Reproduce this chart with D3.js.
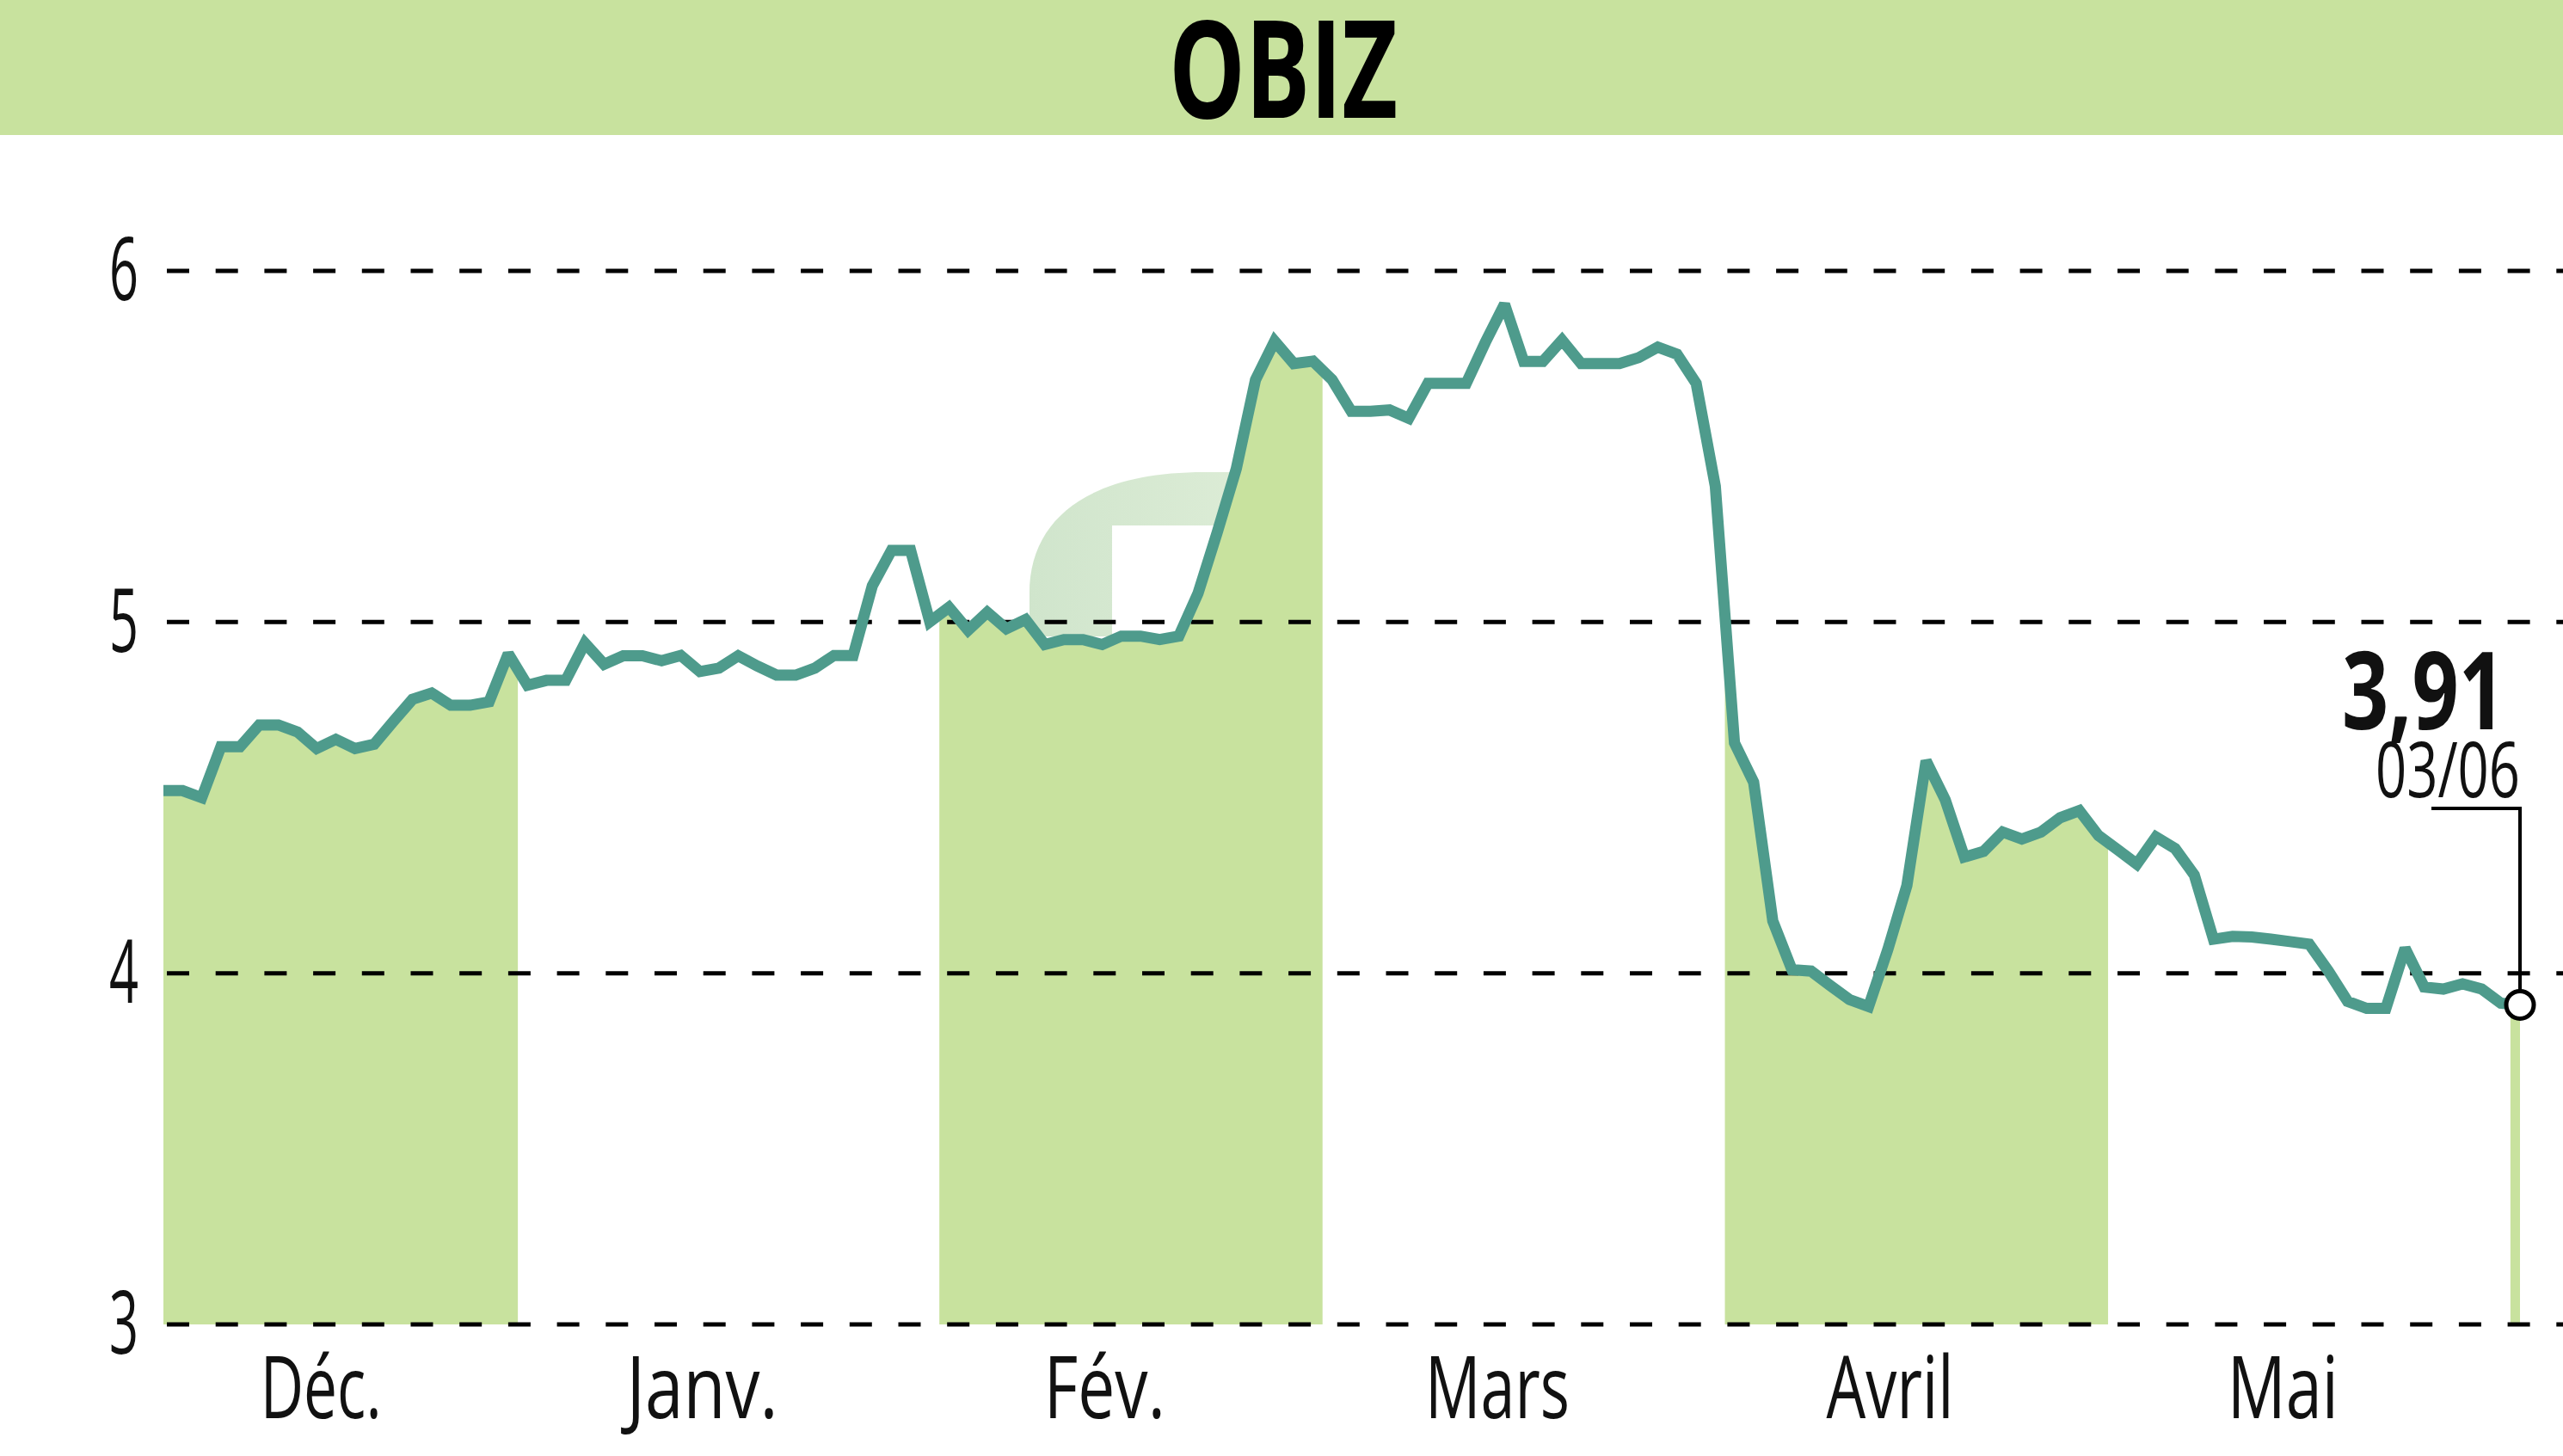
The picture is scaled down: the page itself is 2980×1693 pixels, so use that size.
<!DOCTYPE html>
<html><head><meta charset="utf-8">
<script src="https://cdn.jsdelivr.net/npm/d3@7"></script>
<style>html,body{margin:0;padding:0;background:#fff;} svg{display:block}</style>
</head><body>
<svg id="c" width="2980" height="1693"></svg>
<script>
const title = "OBIZ";
const monthNames = ["Déc.", "Janv.", "Fév.", "Mars", "Avril", "Mai", "Juin"];
const monthCounts = [19, 22, 20, 21, 20, 21, 1];
const tickLabels = ["Déc.", "Janv.", "Fév.", "Mars", "Avril", "Mai"];
const tickIndex = [8.2, 28.1, 49.1, 69.6, 90.1, 110.6];
const tickWidths = [141, 176, 141, 168, 148, 129];
const yTicks = [3, 4, 5, 6];
const prices = [
  4.52, 4.52, 4.50, 4.645, 4.645, 4.707, 4.707, 4.687, 4.64, 4.666,
  4.64, 4.652, 4.717, 4.78, 4.798, 4.763, 4.763, 4.773, 4.91,
  4.82, 4.834, 4.834, 4.94, 4.88, 4.904, 4.904, 4.89, 4.905, 4.859,
  4.869, 4.904, 4.875, 4.849, 4.849, 4.869, 4.905, 4.905, 5.103, 5.204,
  5.204, 5.001,
  5.042, 4.977, 5.028, 4.981, 5.007, 4.936, 4.95, 4.95, 4.936, 4.96,
  4.96, 4.95, 4.96, 5.082, 5.255, 5.437, 5.69, 5.80, 5.736, 5.743,
  5.69, 5.60, 5.60, 5.604, 5.58, 5.68, 5.68, 5.68, 5.797, 5.905,
  5.742, 5.742, 5.803, 5.736, 5.736, 5.736, 5.753, 5.783, 5.763, 5.68,
  5.387,
  4.656, 4.544, 4.149, 4.01, 4.006, 3.965, 3.925, 3.905, 4.067, 4.25,
  4.605, 4.494, 4.331, 4.347, 4.402, 4.382, 4.402, 4.443, 4.463, 4.392,
  4.352, 4.311, 4.388, 4.355, 4.28, 4.097, 4.105, 4.103, 4.097, 4.09,
  4.083, 4.006, 3.92, 3.90, 3.90, 4.071, 3.961, 3.955, 3.97, 3.955,
  3.915,
  3.91
];
const lastValueLabel = "3,91";
const lastDateLabel = "03/06";

const W = 2980, H = 1693;
const svg = d3.select("#c");
const N = prices.length;
const x = d3.scaleLinear().domain([0, N - 1]).range([190, 2930]);
const y = d3.scaleLinear().domain([3, 6]).range([1540, 315]);

const lineColor = "#4e9b8c";
const fillColor = "#c8e29e";
const FONT = "Open Sans, sans-serif";

// squeeze a text horizontally to a target width, keeping its anchor point
function squeeze(sel, widthFn) {
  sel.each(function (d, i) {
    const t = d3.select(this);
    const w = this.getComputedTextLength();
    const target = typeof widthFn === "function" ? widthFn(d, i) : widthFn;
    const ax = +t.attr("x") || 0;
    const s = target / w;
    t.attr("transform", `translate(${ax * (1 - s)},0) scale(${s},1)`);
  });
}

// header
svg.append("rect").attr("x", 0).attr("y", 0).attr("width", W).attr("height", 157).attr("fill", fillColor);
svg.append("text").text(title)
  .attr("x", 1492).attr("y", 137).attr("text-anchor", "middle")
  .attr("font-family", FONT).attr("font-weight", 700)
  .attr("font-size", 158).attr("fill", "#000")
  .call(squeeze, 266);

// watermark
const defs = svg.append("defs");
const grad = defs.append("linearGradient").attr("id", "wm").attr("x1", "0").attr("x2", "1").attr("y1", "0").attr("y2", "0");
grad.append("stop").attr("offset", "0").attr("stop-color", "#d0e5cc");
grad.append("stop").attr("offset", "1").attr("stop-color", "#dcecd6");
svg.append("path")
  .attr("d", "M1197,740 L1197,690 C1197,600 1270,549 1400,549 L1445,549 L1445,611 L1293,611 L1293,740 Z")
  .attr("fill", "url(#wm)");

// month bands
let start = 0;
const bands = monthCounts.map((c, i) => {
  const b = { name: monthNames[i], first: start, last: start + c - 1, shaded: i % 2 === 0 };
  start += c;
  return b;
});
const clip = defs.append("clipPath").attr("id", "bands");
bands.filter(b => b.shaded).forEach(b => {
  const x0 = Math.max(x(b.first - 0.5), x(0) - 6);
  const x1 = Math.min(x(b.last + 0.5), x(N - 1) + 8);
  clip.append("rect").attr("x", x0).attr("y", 0).attr("width", x1 - x0).attr("height", H);
});

const area = d3.area().x((d, i) => x(i)).y0(y(3)).y1(d => y(d));
svg.append("path").datum(prices).attr("d", area).attr("fill", fillColor).attr("clip-path", "url(#bands)");

// grid
const grid = svg.append("g");
yTicks.forEach(t => {
  grid.append("line").attr("x1", 194).attr("x2", W).attr("y1", y(t)).attr("y2", y(t))
    .attr("stroke", "#000").attr("stroke-width", 5).attr("stroke-dasharray", "26 30.7");
});

// y axis labels
const yAxis = svg.append("g").attr("transform", "translate(161,0)")
  .call(d3.axisLeft(y).tickValues(yTicks).tickSize(0).tickPadding(0).tickFormat(d3.format("d")));
yAxis.select(".domain").remove();
yAxis.selectAll("text")
  .attr("font-family", FONT).attr("font-size", 102).attr("fill", "#111")
  .attr("x", 0).attr("dy", "0.33em")
  .call(squeeze, 34);

// x axis labels
const xAxis = svg.append("g").attr("transform", "translate(0,1540)")
  .call(d3.axisBottom(x).tickValues(tickIndex).tickSize(0).tickPadding(0).tickFormat((d, i) => tickLabels[i]));
xAxis.select(".domain").remove();
xAxis.selectAll("text")
  .attr("font-family", FONT).attr("font-size", 100).attr("fill", "#111")
  .attr("y", 109).attr("dy", 0).attr("x", 0)
  .attr("text-anchor", "middle")
  .call(squeeze, (d, i) => tickWidths[i]);

// price line
const line = d3.line().x((d, i) => x(i)).y(d => y(d));
svg.append("path").datum(prices).attr("d", line)
  .attr("fill", "none").attr("stroke", lineColor).attr("stroke-width", 13)
  .attr("stroke-linejoin", "miter").attr("stroke-miterlimit", 2);

// last value annotation
const lx = x(N - 1), ly = y(prices[N - 1]);
svg.append("path")
  .attr("d", `M2827,940 L${lx},940 L${lx},${ly - 17}`)
  .attr("fill", "none").attr("stroke", "#000").attr("stroke-width", 4);
svg.append("circle").attr("cx", lx).attr("cy", ly).attr("r", 16)
  .attr("fill", "#fff").attr("stroke", "#000").attr("stroke-width", 5);
svg.append("text").text(lastValueLabel)
  .attr("x", 2913).attr("y", 848).attr("text-anchor", "end")
  .attr("font-family", FONT).attr("font-weight", 700).attr("font-size", 126).attr("fill", "#111")
  .call(squeeze, 190);
svg.append("text").text(lastDateLabel)
  .attr("x", 2930).attr("y", 927).attr("text-anchor", "end")
  .attr("font-family", FONT).attr("font-size", 90).attr("fill", "#111")
  .call(squeeze, 168);
</script>
</body></html>
